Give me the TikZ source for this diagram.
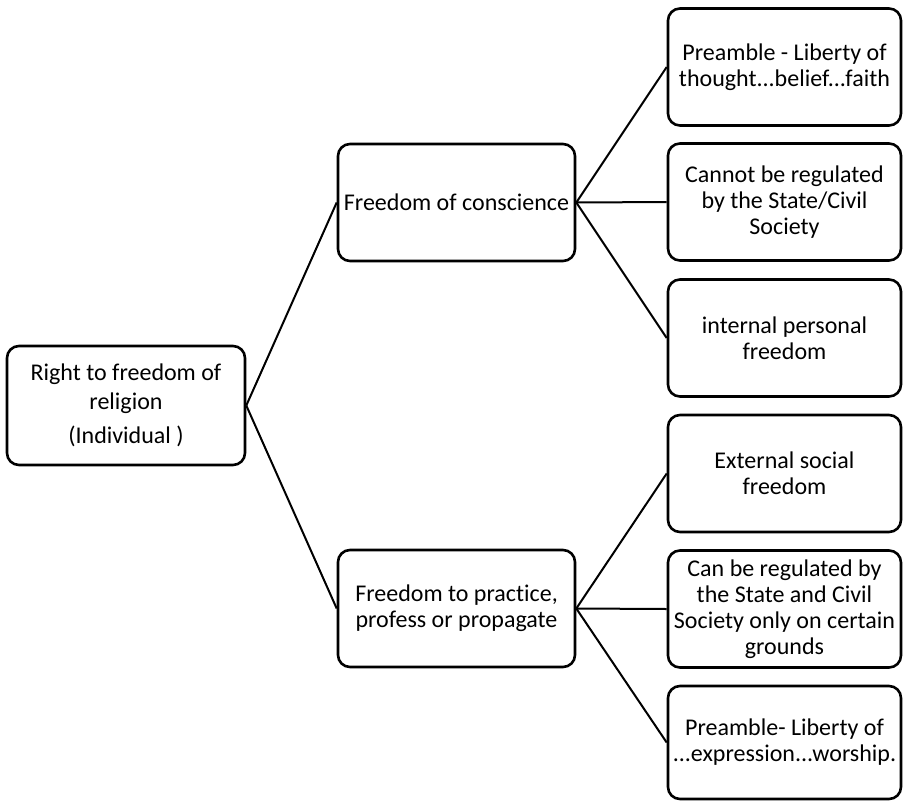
\documentclass[tikz,border=0pt]{standalone}
\usepackage{fontspec}
\setmainfont{Carlito}[Ligatures={NoCommon}]
\begin{document}
\begin{tikzpicture}[x=1pt,y=-1pt,
  box/.style={draw=black, fill=white, line width=2.6pt, rounded corners=12pt, align=center, inner sep=0pt, font=\fontsize{24}{26}\selectfont},
  leafbox/.style={box, minimum width=233pt, minimum height=117pt},
  midbox/.style={box, minimum width=237pt, minimum height=117pt},
  link/.style={draw=black, line width=2pt}]
\fill[white] (0,0) rectangle (903,801);
\useasboundingbox (0,0) rectangle (903,801);
\node[box, minimum width=238pt, minimum height=119pt, font=\fontsize{24}{29}\selectfont] (root) at (126,405.5) {Right to freedom of\\religion\\[5pt](Individual )};
\node[midbox] (m1) at (456.5,202.5) {Freedom of conscience};
\node[midbox] (m2) at (456.5,608.5) {Freedom to practice,\\profess or propagate};
\node[leafbox] (l1) at (784.5,67) {Preamble - Liberty of\\thought...belief...faith};
\node[leafbox] (l2) at (784.5,202) {Cannot be regulated\\by the State/Civil\\Society};
\node[leafbox] (l3) at (784.5,338) {internal personal\\freedom};
\node[leafbox] (l4) at (784.5,473.5) {External social\\freedom};
\node[leafbox] (l5) at (784.5,609) {Can be regulated by\\the State and Civil\\Society only on certain\\grounds};
\node[leafbox, minimum height=113pt] (l6) at (784.5,742.5) {Preamble- Liberty of\\...expression...worship.};
\draw[link] (root.east) -- (m1.west);
\draw[link] (root.east) -- (m2.west);
\draw[link] (m1.east) -- (l1.west);
\draw[link] (m1.east) -- (l2.west);
\draw[link] (m1.east) -- (l3.west);
\draw[link] (m2.east) -- (l4.west);
\draw[link] (m2.east) -- (l5.west);
\draw[link] (m2.east) -- (l6.west);
\end{tikzpicture}
\end{document}
